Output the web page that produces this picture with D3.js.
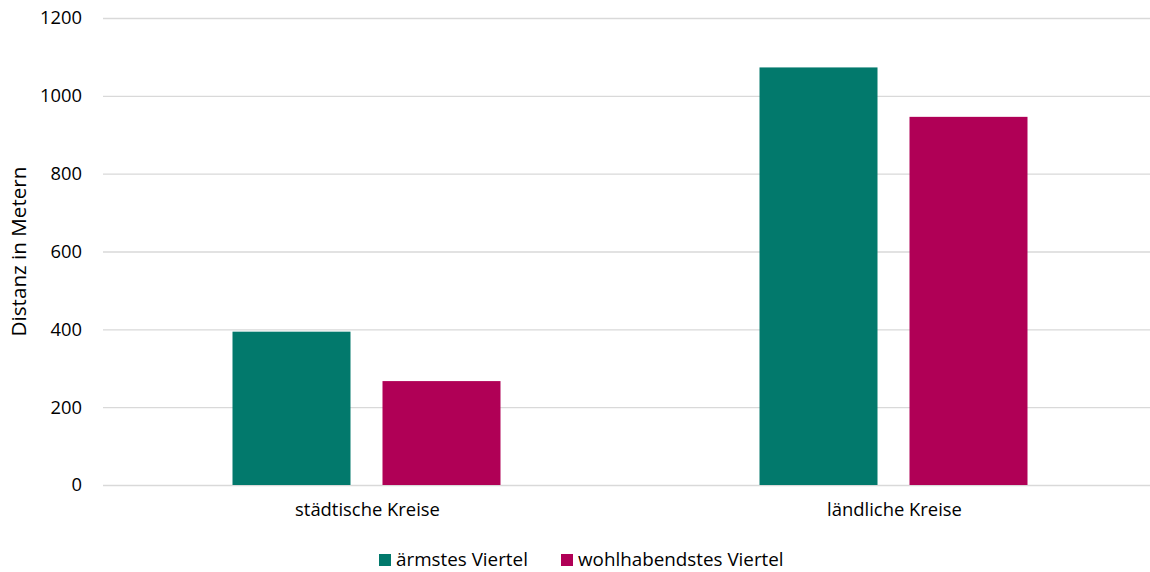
<!DOCTYPE html>
<html>
<head>
<meta charset="utf-8">
<script src="https://cdn.jsdelivr.net/npm/d3@7"></script>
<style>
  html, body { margin: 0; padding: 0; background: #fff; }
  svg { display: block; font-family: "Open Sans", "Noto Sans", sans-serif; }
</style>
</head>
<body>
<svg id="chart" width="1150" height="572"></svg>
<script>
const categories = ["städtische Kreise", "ländliche Kreise"];
const seriesNames = ["ärmstes Viertel", "wohlhabendstes Viertel"];
const seriesColors = ["#02796C", "#B00056"];
const poorestValues = [394, 1073];
const wealthiestValues = [267, 946];
const yTicks = [0, 200, 400, 600, 800, 1000, 1200];

const seriesValues = [poorestValues, wealthiestValues];

const svg = d3.select("#chart");
const W = 1150, H = 572;
const plot = { left: 103, right: 1157, top: 18, bottom: 485 };

// fit a text selection's font size so that a reference string has a target width
function fitFont(sel, refText, targetWidth) {
  const probe = svg.append("text").attr("font-size", 100).text(refText);
  const w = probe.node().getComputedTextLength();
  probe.remove();
  const fs = 100 * targetWidth / w;
  sel.attr("font-size", fs);
  return fs;
}

const y = d3.scaleLinear().domain([0, 1200]).range([plot.bottom, plot.top]);
const x0 = d3.scaleBand().domain(categories).range([plot.left, plot.right]).paddingInner(0).paddingOuter(0);
const groupWidth = 268;
const x1 = d3.scaleBand().domain(seriesNames).range([0, groupWidth]).paddingInner(0.2133).paddingOuter(0);

// gridlines + tick labels
const yAxis = d3.axisLeft(y).tickValues(yTicks).tickSize(-(W - plot.left)).tickPadding(21).tickFormat(d3.format("d"));
const gy = svg.append("g").attr("transform", `translate(${plot.left},0)`).call(yAxis);
gy.select(".domain").remove();
gy.selectAll(".tick line").attr("stroke", "#D9D9D9").attr("stroke-width", 1.3);
const tickText = gy.selectAll(".tick text").attr("fill", "#000").attr("font-family", "Open Sans");
fitFont(tickText, "1200", 42);

// bars
const groups = svg.append("g").selectAll("g").data(categories).join("g")
  .attr("transform", c => `translate(${x0(c) + (x0.bandwidth() - groupWidth) / 2},0)`);
groups.selectAll("rect")
  .data((c, i) => seriesNames.map((s, j) => ({ s, j, v: seriesValues[j][i] })))
  .join("rect")
  .attr("x", d => x1(d.s))
  .attr("width", x1.bandwidth())
  .attr("y", d => y(d.v))
  .attr("height", d => y(0) - y(d.v))
  .attr("fill", d => seriesColors[d.j]);

// category axis labels
const xAxis = d3.axisBottom(x0).tickSize(0).tickPadding(18);
const gx = svg.append("g").attr("transform", `translate(0,${plot.bottom})`).call(xAxis);
gx.select(".domain").remove();
const catText = gx.selectAll(".tick text").attr("fill", "#000").attr("font-family", "Open Sans").attr("dx", 1);
fitFont(catText, "städtische Kreise", 145);

// y axis title
const yTitle = svg.append("text")
  .attr("transform", `translate(18.5,${(plot.top + plot.bottom) / 2}) rotate(-90)`)
  .attr("text-anchor", "middle")
  .attr("dy", "0.35em")
  .attr("fill", "#000")
  .text("Distanz in Metern");
fitFont(yTitle, "Distanz in Metern", 170);

// legend
const legendX = [379, 561];
const legend = svg.append("g").selectAll("g").data(seriesNames).join("g")
  .attr("transform", (d, i) => `translate(${legendX[i]},554)`);
legend.append("rect").attr("width", 12).attr("height", 12).attr("fill", (d, i) => seriesColors[i]);
const legText = legend.append("text").attr("x", 17).attr("y", 5.5).attr("dy", "0.32em")
  .attr("fill", "#000").text(d => d);
fitFont(legText, "ärmstes Viertel", 132);
</script>
</body>
</html>
